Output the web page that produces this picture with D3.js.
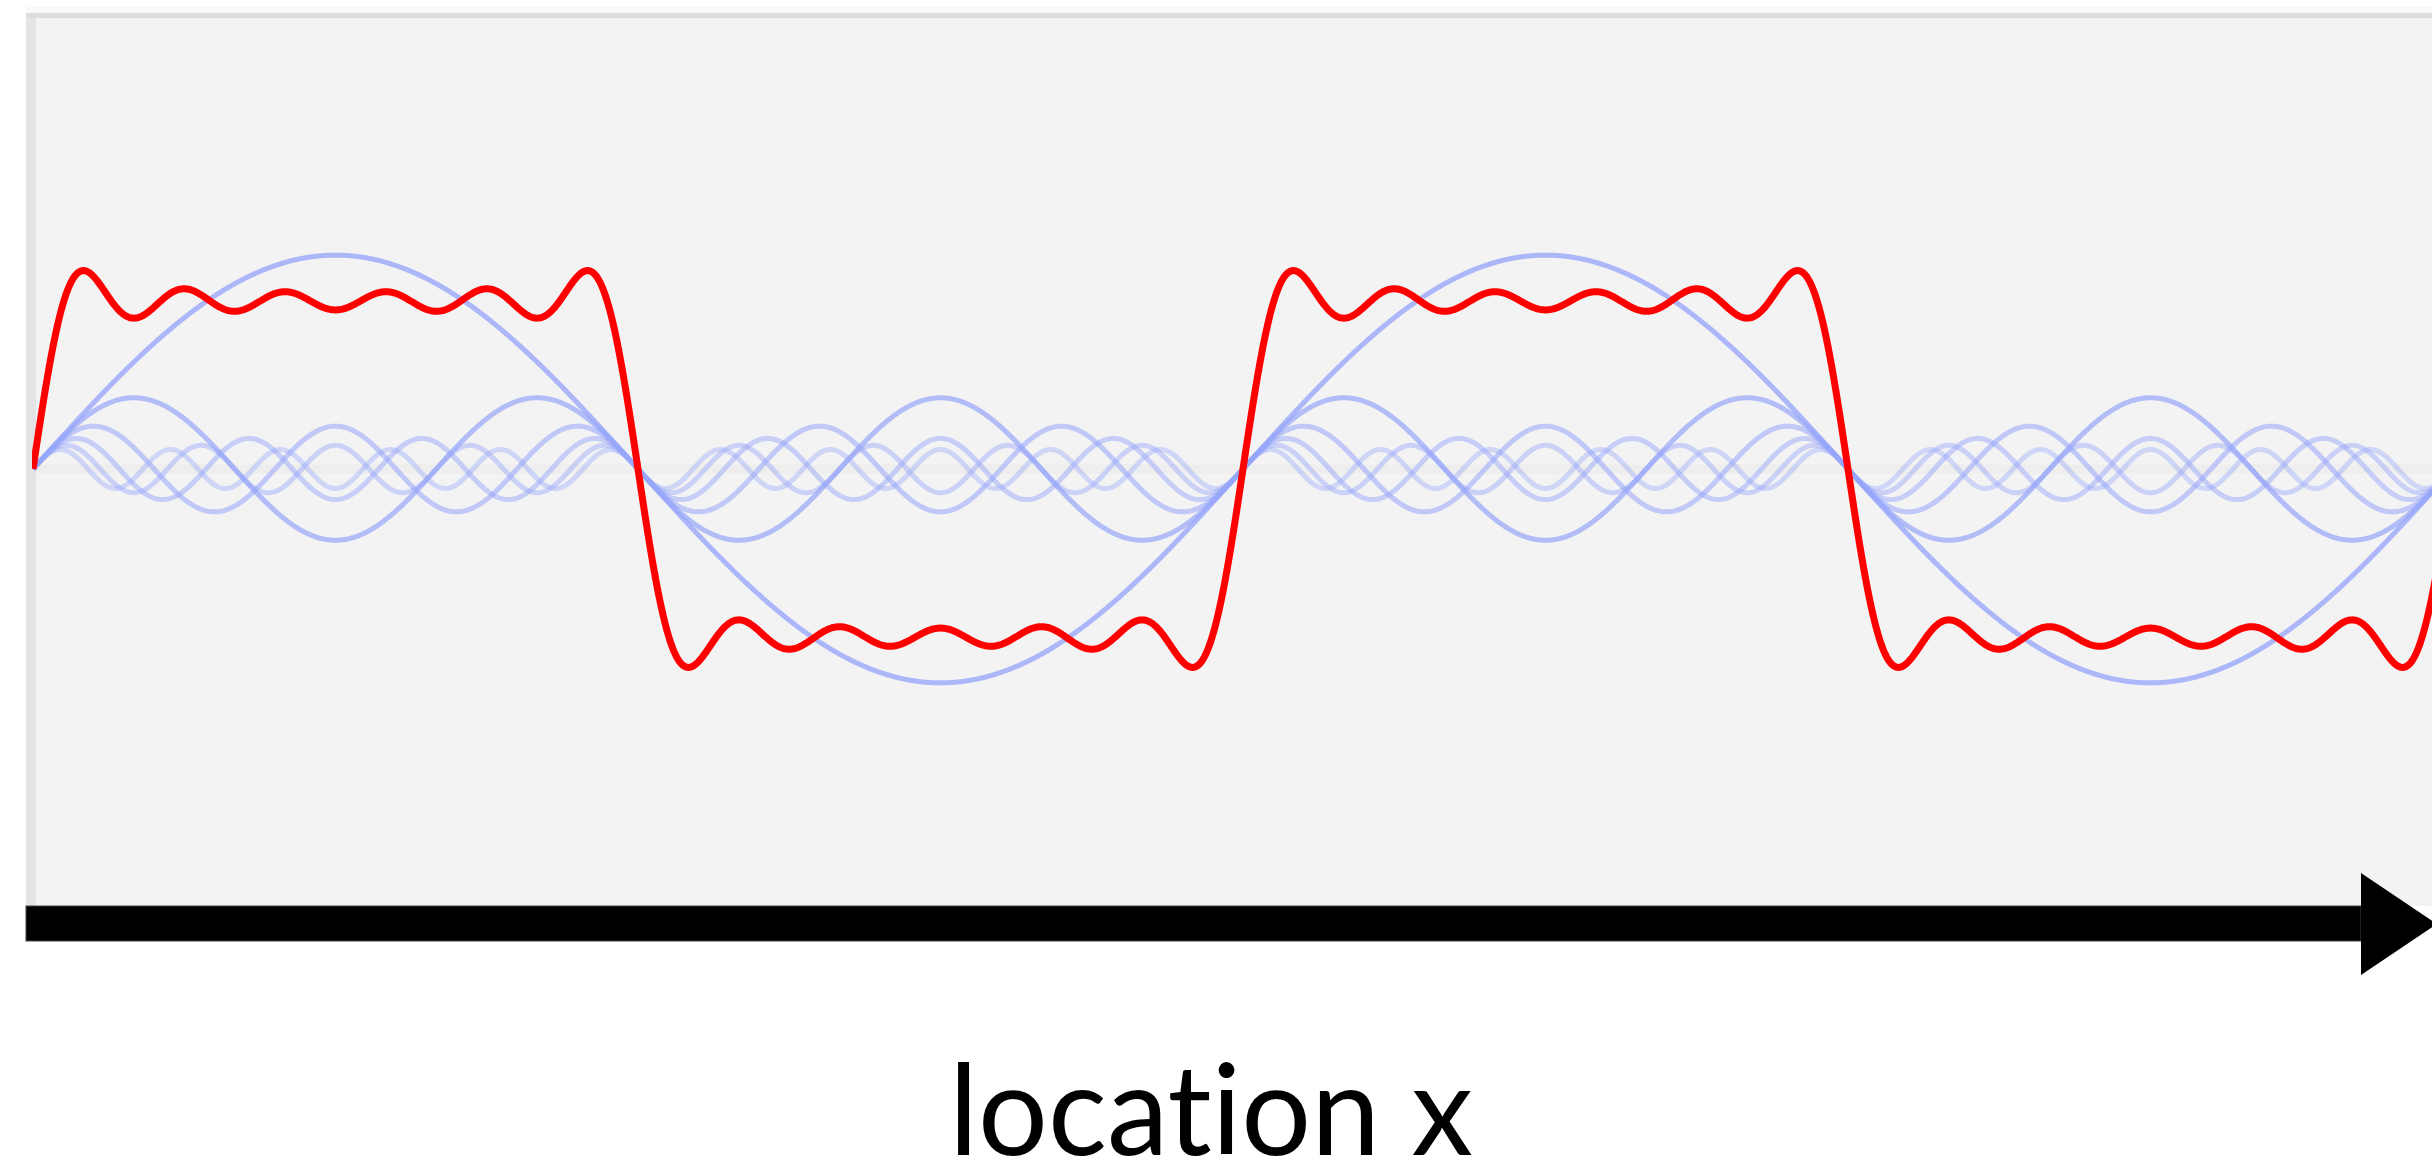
<!DOCTYPE html>
<html>
<head>
<meta charset="utf-8">
<script src="https://cdn.jsdelivr.net/npm/d3@7"></script>
<style>
html, body { margin: 0; padding: 0; background: #ffffff; overflow: hidden; }
svg { display: block; }
</style>
</head>
<body>
<svg id="chart" width="2432" height="1172"></svg>
<script>
// ---- data ----
// odd harmonics of the square wave and their amplitudes (square level = 1)
const harmonics = [1, 3, 5, 7, 9, 11];
const amplitudes = [1.273, 0.424, 0.255, 0.182, 0.141, 0.116];
// shown range of location x, in periods of the square wave
const xDomain = [0, 2];
// value range of the wave (square level -1 .. 1)
const yDomain = [-1, 1];
const axisLabel = "location x";

// ---- layout / style ----
const W = 2432, H = 1172;
const svg = d3.select("#chart");
const panel = { x0: 36, y0: 18, x1: 2432, y1: 906 };
const blueOpacity = [0.78, 0.7, 0.56, 0.49, 0.43, 0.39];

const x = d3.scaleLinear().domain(xDomain).range([33, 2453]);
const y = d3.scaleLinear().domain(yDomain).range([637, 301]);

// background panel with thin borders
svg.append("rect").attr("x", 26).attr("y", 7).attr("width", W - 26).attr("height", 7).attr("fill", "#f8f8f8");
svg.append("rect").attr("x", 26).attr("y", 13).attr("width", W - 26).attr("height", 906 - 13).attr("fill", "#dcdcdc");
svg.append("rect").attr("x", 26).attr("y", 18).attr("width", 10).attr("height", 906 - 18).attr("fill", "#e4e4e4");
svg.append("rect").attr("x", panel.x0).attr("y", panel.y0)
  .attr("width", panel.x1 - panel.x0).attr("height", panel.y1 - panel.y0).attr("fill", "#f3f3f3");

svg.append("defs").append("clipPath").attr("id", "clip")
  .append("rect").attr("x", panel.x0 - 4).attr("y", panel.y0)
  .attr("width", panel.x1 - panel.x0 + 4).attr("height", panel.y1 - panel.y0);

const plot = svg.append("g").attr("clip-path", "url(#clip)");

// faint zero line
plot.append("line")
  .attr("x1", panel.x0).attr("x2", panel.x1)
  .attr("y1", y(0)).attr("y2", y(0))
  .attr("stroke", "#eeeeee").attr("stroke-width", 9);

const samples = d3.range(xDomain[0], xDomain[1] + 1e-9, 1 / 1500);
const line = d3.line().x(d => x(d[0])).y(d => y(d[1]));

// individual harmonics (blue), faintest drawn first
harmonics.map((n, i) => ({ n, a: amplitudes[i], o: blueOpacity[i] }))
  .reverse()
  .forEach(h => {
    const pts = samples.map(t => [t, h.a * Math.sin(2 * Math.PI * h.n * t)]);
    plot.append("path")
      .attr("d", line(pts))
      .attr("fill", "none")
      .attr("stroke", "rgb(150,165,250)")
      .attr("stroke-opacity", h.o)
      .attr("stroke-width", 5)
      .attr("stroke-linejoin", "round");
  });

// partial sum (red)
const sumPts = samples.map(t => [t, d3.sum(harmonics, (n, i) => amplitudes[i] * Math.sin(2 * Math.PI * n * t))]);
plot.append("path")
  .attr("d", line(sumPts))
  .attr("fill", "none")
  .attr("stroke", "#ff0000")
  .attr("stroke-width", 7)
  .attr("stroke-linejoin", "round");

// arrow along the x direction
svg.append("rect").attr("x", 26).attr("y", 906).attr("width", 2361 - 26).attr("height", 35)
  .attr("fill", "#000000").attr("stroke", "#444444").attr("stroke-width", 1);
svg.append("path")
  .attr("d", d3.line()([[2361, 873], [2437, 924], [2361, 975]]) + "Z")
  .attr("fill", "#000000");

// label
svg.append("text")
  .attr("x", 1211).attr("y", 1155)
  .attr("text-anchor", "middle")
  .attr("font-family", "Lato, 'Open Sans', sans-serif")
  .attr("font-size", 126)
  .style("font-variant-ligatures", "none")
  .style("font-feature-settings", "'liga' 0, 'clig' 0")
  .attr("fill", "#000000")
  .attr("textLength", 524)
  .attr("lengthAdjust", "spacingAndGlyphs")
  .text(axisLabel);
</script>
</body>
</html>
